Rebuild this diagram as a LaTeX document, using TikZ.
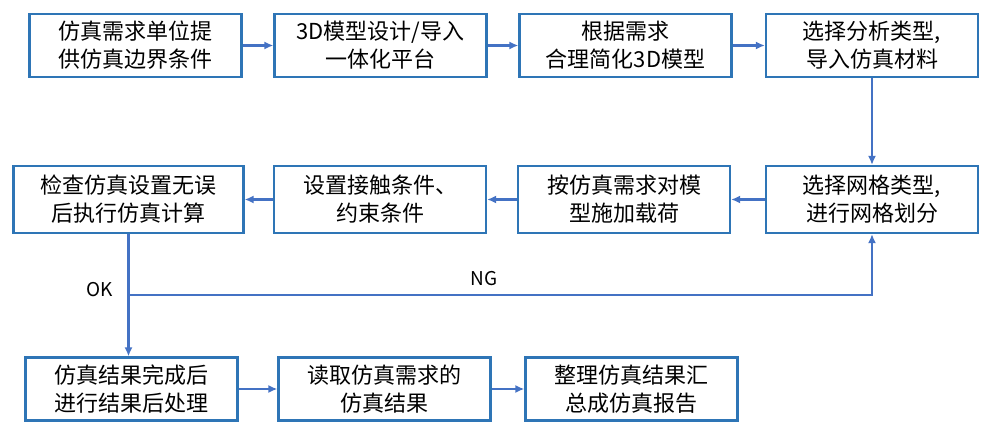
\documentclass[tikz,border=0pt]{standalone}
\usepackage{fontspec}
\setmainfont{Noto Sans CJK SC}
\usetikzlibrary{positioning,arrows.meta}
\definecolor{boxblue}{HTML}{2E75B6}
\definecolor{arrblue}{HTML}{4472C4}
\tikzset{% change default arrow tips
    >={Latex[length=9pt,width=8pt]}
}
\begin{document}
\begin{tikzpicture}[x=1pt,y=-1pt,
    stage/.style={draw=boxblue,line width=2.2pt,fill=white,minimum width=212pt,minimum height=63pt,
        align=center,font=\fontsize{22}{28}\selectfont,inner sep=2pt},
    flow/.style={->,draw=arrblue,line width=2.6pt},
    lbl/.style={font=\fontsize{19}{20}\selectfont}]
    \useasboundingbox (0,0) rectangle (988,446);

    % first row
    \node[stage] (req)    at (135.5,45.5) {仿真需求单位提\\供仿真边界条件};
    \node[stage] (cad)    at (380.5,45.5) {3D模型设计/导入\\一体化平台};
    \node[stage] (simp)   at (625.5,45.5) {根据需求\\合理简化3D模型};
    \node[stage] (mat)    at (872,45.5)   {选择分析类型,\\导入仿真材料};

    % second row
    \node[stage,minimum width=230pt,minimum height=67pt] (check) at (128.5,199.5) {检查仿真设置无误\\后执行仿真计算};
    \node[stage,minimum height=67pt] (cont)  at (380,199.5) {设置接触条件、\\约束条件};
    \node[stage,minimum height=67pt] (load)  at (624,199.5) {按仿真需求对模\\型施加载荷};
    \node[stage,minimum height=67pt] (mesh)  at (872,199.5) {选择网格类型,\\进行网格划分};

    % third row
    \node[stage] (post)   at (131.5,389) {仿真结果完成后\\进行结果后处理};
    \node[stage] (read)   at (384.5,389) {读取仿真需求的\\仿真结果};
    \node[stage] (report) at (631.5,389) {整理仿真结果汇\\总成仿真报告};

    \coordinate (split) at (check.south |- 0,295);

    % connectors
    \draw[flow] (req) -- (cad);
    \draw[flow] (cad) -- (simp);
    \draw[flow] (simp) -- (mat);
    \draw[flow] (mat) -- (mesh);
    \draw[flow] (mesh) -- (load);
    \draw[flow] (load) -- (cont);
    \draw[flow] (cont) -- (check);
    \draw[flow] (check.south) -- (post.north -| check.south);
    \draw[flow] (split) -| (mesh.south);
    \draw[flow] (post) -- (read);
    \draw[flow] (read) -- (report);

    \node[lbl] (ok) at (100,290) {OK};
    \node[lbl] (ng) at (484,279) {NG};
\end{tikzpicture}
\end{document}
